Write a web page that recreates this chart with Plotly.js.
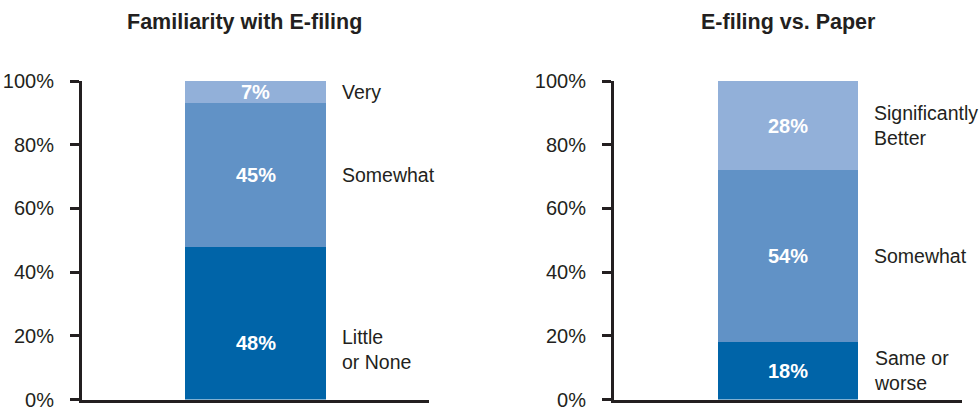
<!DOCTYPE html>
<html>
<head>
<meta charset="utf-8">
<script src="https://cdn.plot.ly/plotly-3.0.1.min.js"></script>
<style>html,body{margin:0;padding:0;background:#fff;}#chart{width:979px;height:413px;}</style>
</head>
<body>
<div id="chart"></div>
<script>
// ---- data ----
const chartTitles = ["Familiarity with E-filing", "E-filing vs. Paper"];
const categories1 = ["Little<br>or None", "Somewhat", "Very"];
const values1 = [48, 45, 7];
const categories2 = ["Same or<br>worse", "Somewhat", "Significantly<br>Better"];
const values2 = [18, 54, 28];
const tickVals = [0, 20, 40, 60, 80, 100];
const tickText = ["0%", "20%", "40%", "60%", "80%", "100%"];

// ---- styles ----
const colors = ["#0064a8", "#6192c6", "#92b0d9"];
const ink = "#231f20";
const font = "'Liberation Sans', Arial, Helvetica, sans-serif";

const traces = [];
const annotations = [];

function addChart(cats, vals, idx) {
  const xa = idx === 0 ? "x" : "x2";
  const ya = idx === 0 ? "y" : "y2";
  let base = 0;
  cats.forEach((c, i) => {
    traces.push({
      type: "bar",
      x: ["bar"],
      y: [vals[i]],
      xaxis: xa, yaxis: ya,
      width: 0.81,
      marker: {color: colors[i], line: {width: 0}},
      hoverinfo: "skip",
      showlegend: false
    });
    const mid = base + vals[i] / 2;
    const lowShift = (idx === 0 && i === 0);
    annotations.push({
      xref: xa, yref: ya, x: "bar", y: mid, yshift: lowShift ? -20 : 0,
      text: "<b>" + vals[i] + "%</b>", showarrow: false,
      font: {family: font, size: 20, color: "#ffffff"}
    });
    annotations.push({
      xref: xa, yref: ya, x: 0.405, y: mid, yshift: lowShift ? -26 : 0,
      xanchor: "left", xshift: 14, align: "left",
      text: c, showarrow: false,
      font: {family: font, size: 19.5, color: ink}
    });
    base += vals[i];
  });
}
addChart(categories1, values1, 0);
addChart(categories2, values2, 1);

annotations.push({xref: "paper", yref: "paper", x: 245/979, y: 1 - 22/413, xanchor: "center", yanchor: "middle",
  text: "<b>" + chartTitles[0] + "</b>", showarrow: false, font: {family: font, size: 21.5, color: ink}});
annotations.push({xref: "paper", yref: "paper", x: 788.5/979, y: 1 - 22/413, xanchor: "center", yanchor: "middle",
  text: "<b>" + chartTitles[1] + "</b>", showarrow: false, font: {family: font, size: 21.5, color: ink}});

const xBase = {type: "category", range: [-1, 1], showline: true, linewidth: 3, linecolor: ink,
  showticklabels: false, ticks: "", showgrid: false, zeroline: false, fixedrange: true};
const yBase = {range: [0, 100], tickvals: tickVals, ticktext: tickText, showline: true, linewidth: 3, linecolor: ink,
  ticks: "outside", ticklen: 9, tickwidth: 3, tickcolor: ink, showgrid: false, zeroline: false,
  ticklabelstandoff: 12, tickfont: {family: font, size: 20, color: ink}, fixedrange: true};

const yDom = [(413 - 399.5) / 413, (413 - 81) / 413];
const layout = {
  width: 979, height: 413,
  margin: {l: 0, r: 0, t: 0, b: 0},
  paper_bgcolor: "#ffffff", plot_bgcolor: "#ffffff",
  barmode: "stack", bargap: 0,
  showlegend: false,
  xaxis: Object.assign({}, xBase, {domain: [82/979, 429/979], anchor: "y"}),
  yaxis: Object.assign({}, yBase, {domain: yDom, anchor: "x"}),
  xaxis2: Object.assign({}, xBase, {domain: [614/979, 962/979], anchor: "y2"}),
  yaxis2: Object.assign({}, yBase, {domain: yDom, anchor: "x2"}),
  annotations: annotations
};

Plotly.newPlot("chart", traces, layout, {displayModeBar: false, staticPlot: true});
</script>
</body>
</html>
